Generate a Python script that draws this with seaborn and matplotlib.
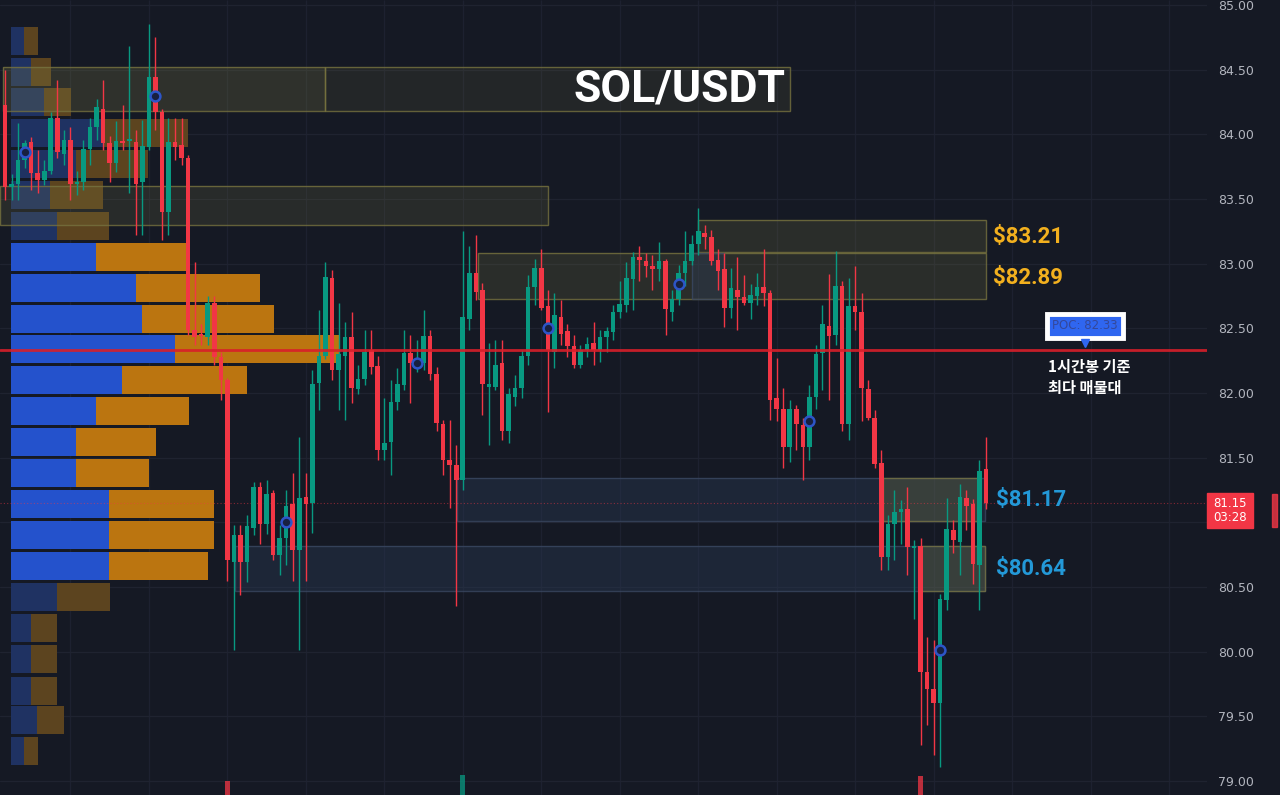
import numpy as np
import pandas as pd
import matplotlib
matplotlib.use("Agg")
import matplotlib.pyplot as plt
from matplotlib.patches import Rectangle
from matplotlib.transforms import blended_transform_factory
import seaborn as sns

# 1h candles, oldest first
opens = [84.23, 83.59, 83.62, 83.80, 83.94, 83.70, 83.65, 83.72, 84.13, 83.85,
         83.96, 83.62, 83.63, 83.89, 84.06, 84.20, 83.93, 83.78, 83.95, 83.95,
         83.94, 83.63, 83.90, 84.44, 84.17, 83.40, 83.94, 83.92, 83.82, 82.49,
         82.46, 82.43, 82.70, 82.28, 82.10, 80.69, 80.90, 80.69, 80.96, 81.27,
         80.99, 81.23, 80.75, 80.88, 81.14, 80.79, 81.20, 81.15, 82.08, 82.29,
         82.89, 82.18, 82.29, 82.43, 82.03, 82.11, 82.33, 82.21, 81.56, 81.62,
         81.93, 82.06, 82.31, 82.21, 82.23, 82.44, 82.15, 81.76, 81.48, 81.44,
         81.33, 82.57, 82.93, 82.80, 82.05, 82.05, 82.23, 81.71, 81.97, 82.04,
         82.29, 82.82, 82.97, 82.67, 82.32, 82.59, 82.48, 82.36, 82.22, 82.33,
         82.39, 82.33, 82.43, 82.47, 82.63, 82.68, 82.88, 83.05, 83.02, 82.98,
         82.96, 83.02, 82.63, 82.73, 82.93, 83.02, 83.15, 83.24, 83.21, 83.03,
         82.96, 82.66, 82.80, 82.74, 82.70, 82.75, 82.82, 82.77, 81.96, 81.88,
         81.58, 81.88, 81.75, 81.58, 81.97, 82.31, 82.52, 82.45, 82.83, 81.76,
         82.67, 82.63, 82.03, 81.81, 81.46, 80.73, 80.99, 81.08, 81.10, 80.80,
         80.82, 79.84, 79.71, 79.60, 80.40, 80.94, 80.85, 81.19, 81.14, 80.67,
         81.41]
highs = [84.50, 83.69, 84.09, 83.96, 83.98, 83.88, 83.80, 84.17, 84.42, 84.03,
         84.06, 83.72, 83.96, 84.13, 84.27, 84.42, 83.99, 84.10, 84.23, 84.68,
         84.03, 84.11, 84.85, 84.75, 84.20, 84.13, 84.13, 84.13, 83.84, 83.01,
         82.53, 82.75, 82.75, 82.32, 82.12, 80.98, 80.98, 81.06, 81.31, 81.31,
         81.33, 81.25, 80.98, 81.25, 81.38, 81.66, 81.38, 82.18, 82.64, 83.01,
         82.95, 82.70, 82.55, 82.63, 82.22, 82.49, 82.49, 82.29, 81.96, 82.10,
         82.19, 82.49, 82.45, 82.41, 82.64, 82.49, 82.20, 81.79, 81.79, 81.60,
         83.25, 83.14, 83.22, 82.85, 82.39, 82.41, 82.41, 82.04, 82.14, 82.33,
         82.91, 83.04, 83.11, 82.80, 82.77, 82.72, 82.53, 82.45, 82.37, 82.43,
         82.55, 82.49, 82.51, 82.68, 82.87, 83.01, 83.09, 83.14, 83.08, 83.07,
         83.17, 83.04, 82.80, 82.99, 83.25, 83.22, 83.43, 83.30, 83.26, 83.11,
         83.08, 82.97, 83.05, 82.91, 82.84, 82.93, 83.11, 82.80, 82.27, 82.04,
         81.95, 81.91, 81.81, 82.06, 82.37, 82.68, 82.92, 83.10, 82.87, 82.89,
         82.98, 82.77, 82.10, 81.87, 81.56, 81.06, 81.25, 81.17, 81.27, 80.86,
         80.88, 80.11, 80.09, 80.45, 81.19, 81.02, 81.30, 81.25, 81.18, 81.48,
         81.66]
lows = [83.49, 83.49, 83.49, 83.74, 83.57, 83.55, 83.61, 83.69, 83.82, 83.76,
        83.49, 83.53, 83.57, 83.76, 83.96, 83.88, 83.63, 83.71, 83.88, 83.55,
        83.22, 83.22, 83.88, 84.03, 83.18, 83.22, 83.80, 83.76, 82.45, 82.37,
        82.37, 82.37, 82.22, 81.95, 80.55, 80.01, 80.44, 80.54, 80.90, 80.83,
        80.91, 80.71, 80.59, 80.67, 80.55, 80.01, 80.55, 80.92, 81.87, 82.26,
        82.10, 81.87, 81.79, 81.92, 81.99, 82.06, 82.15, 81.48, 81.48, 81.37,
        81.87, 82.02, 81.92, 82.16, 82.18, 82.10, 81.71, 81.37, 81.11, 80.35,
        81.25, 82.49, 82.72, 81.83, 81.60, 82.02, 81.64, 81.61, 81.90, 81.96,
        82.22, 82.68, 82.64, 81.85, 82.19, 82.37, 82.28, 82.19, 82.19, 82.28,
        82.22, 82.24, 82.32, 82.41, 82.58, 82.63, 82.64, 82.87, 82.90, 82.80,
        82.87, 82.45, 82.56, 82.68, 82.83, 82.99, 83.07, 83.11, 82.99, 82.80,
        82.51, 82.58, 82.49, 82.68, 82.57, 82.68, 82.67, 81.79, 81.78, 81.42,
        81.47, 81.56, 81.33, 81.48, 81.88, 82.02, 81.95, 82.37, 81.71, 81.64,
        82.49, 81.78, 81.79, 81.42, 80.63, 80.63, 80.71, 80.83, 80.59, 80.25,
        79.28, 79.43, 79.20, 79.11, 80.32, 80.76, 80.59, 80.94, 80.52, 80.32,
        81.10]
closes = [83.59, 83.62, 83.80, 83.93, 83.70, 83.65, 83.72, 84.13, 83.86, 83.96,
          83.62, 83.63, 83.89, 84.06, 84.21, 83.93, 83.78, 83.95, 83.93, 83.96,
          83.62, 83.91, 84.44, 84.17, 83.40, 83.94, 83.90, 83.82, 82.49, 82.43,
          82.44, 82.70, 82.28, 82.10, 80.71, 80.90, 80.69, 80.97, 81.27, 80.99,
          81.22, 80.75, 80.88, 81.13, 80.79, 81.19, 81.14, 82.07, 82.29, 82.90,
          82.18, 82.30, 82.43, 82.04, 82.11, 82.32, 82.20, 81.56, 81.61, 81.93,
          82.07, 82.31, 82.23, 82.27, 82.44, 82.15, 81.77, 81.48, 81.44, 81.33,
          82.59, 82.93, 82.78, 82.07, 82.07, 82.22, 81.71, 81.99, 82.04, 82.29,
          82.82, 82.97, 82.66, 82.33, 82.60, 82.46, 82.36, 82.22, 82.33, 82.38,
          82.33, 82.43, 82.48, 82.63, 82.69, 82.89, 83.05, 83.03, 82.98, 82.96,
          83.02, 82.65, 82.73, 82.93, 83.02, 83.15, 83.25, 83.21, 83.02, 82.94,
          82.66, 82.81, 82.74, 82.70, 82.76, 82.82, 82.77, 81.95, 81.88, 81.58,
          81.88, 81.76, 81.58, 81.97, 82.30, 82.53, 82.44, 82.83, 81.76, 82.67,
          82.63, 82.04, 81.81, 81.45, 80.73, 80.99, 81.08, 81.10, 80.81, 80.82,
          79.84, 79.71, 79.60, 80.41, 80.95, 80.86, 81.20, 81.13, 80.68, 81.40,
          81.15]

# blue ring markers on the candles
marker_idx = [3, 23, 43, 63, 83, 103, 123, 143]
marker_price = [83.86, 84.30, 81.00, 82.23, 82.50, 82.84, 81.78, 80.01]

# volume profile (row centre price, buy / sell volume)
vp_price = [84.72, 84.48, 84.25, 84.01, 83.77, 83.53, 83.29, 83.05, 82.81, 82.57,
            82.34, 82.10, 81.86, 81.62, 81.38, 81.14, 80.90, 80.66, 80.42, 80.18,
            79.94, 79.70, 79.47, 79.23]
vp_buy = [13, 20, 33, 92, 65, 39, 46, 85, 125, 131, 164, 111,
          85, 65, 65, 98, 98, 98, 46, 20, 20, 20, 26, 13]
vp_sell = [14, 20, 27, 85, 72, 53, 52, 90, 124, 132, 165, 125,
           93, 80, 73, 105, 105, 99, 53, 26, 26, 26, 27, 14]
va_high, va_low = 83.17, 80.55
poc = 82.33

# key levels
levels_gold = [83.21, 82.89]
levels_blue = [81.17, 80.64]

# the few volume bars that poke up at the bottom
spike_idx = [34, 70, 140]
spike_vol = [14, 20, 19]

BG = "#151924"
GREEN = "#089981"
RED = "#f23645"
GOLD = "#f2b01e"
SKY = "#2399d8"
BOLD_FONT = ["Roboto", "Open Sans", "DejaVu Sans"]

sns.set_theme(style="dark", rc={"figure.facecolor": BG, "axes.facecolor": BG,
                                "savefig.facecolor": BG})
plt.rcParams["font.family"] = ["DejaVu Sans", "Noto Sans CJK KR"]

df = pd.DataFrame({"open": opens, "high": highs, "low": lows, "close": closes})
df["idx"] = np.arange(len(df))
df["up"] = df["close"] >= df["open"]

W, H = 1280, 795
plot_w = 1207
fig = plt.figure(figsize=(W / 100, H / 100), dpi=100)
rect = [0, 0, plot_w / W, 1]
ax_vp = fig.add_axes(rect)
ax = fig.add_axes(rect, sharey=ax_vp)
ax.patch.set_alpha(0)

ylo, yhi = 78.892, 85.039
ax.set_ylim(ylo, yhi)
ax.set_xlim(-0.765, 183.8)
ax_vp.set_xlim(-11, plot_w - 11)

# grid (on the bottom axes so the profile bars cover it)
ticks = np.arange(79, 85.01, 0.5)
ax_vp.set_yticks(ticks)
ax_vp.grid(axis="y", color="#1f2330", lw=0.9)
ax_vp.grid(axis="x", visible=False)
vtrans = blended_transform_factory(ax.transData, ax_vp.transAxes)
ax_vp.vlines(list(range(10, 184, 12)), 0, 1, transform=vtrans, color="#1d2130",
             lw=0.9, zorder=0.5)

# volume profile
in_va = [(p <= va_high) and (p >= va_low) for p in vp_price]
blue_c = ["#2452cc" if v else "#1f3262" for v in in_va]
orng_c = ["#bb7510" if v else "#5c441f" for v in in_va]
ax_vp.barh(vp_price, vp_buy, height=0.2165, color=blue_c, lw=0, zorder=2)
ax_vp.barh(vp_price, vp_sell, left=vp_buy, height=0.2165, color=orng_c, lw=0, zorder=2)

# zones
def zone(x0, x1, p0, p1, fc, ec, a):
    ax.add_patch(Rectangle((x0, p0), x1 - x0, p1 - p0, facecolor=fc, alpha=a,
                           lw=0, zorder=1))
    ax.add_patch(Rectangle((x0, p0), x1 - x0, p1 - p0, fill=False, edgecolor=ec,
                           lw=1, zorder=1.2, alpha=0.8))

olive, olive_e = "#8c8a4a", "#77733f"
navy, navy_e = "#2a3a55", "#3a4862"
zone(-0.3, 48.9, 84.18, 84.52, olive, olive_e, 0.22)
zone(48.9, 120.0, 84.18, 84.52, olive, olive_e, 0.12)
zone(-0.8, 83.0, 83.30, 83.60, olive, olive_e, 0.16)
zone(106.0, 150.0, 83.09, 83.34, olive, olive_e, 0.18)
zone(72.3, 150.0, 82.73, 83.08, olive, olive_e, 0.18)
zone(105.0, 110.0, 82.73, 83.08, navy, navy_e, 0.4)
zone(69.1, 149.8, 81.01, 81.34, navy, navy_e, 0.4)
zone(134.2, 148.8, 81.01, 81.34, olive, olive_e, 0.25)
zone(35.2, 149.8, 80.47, 80.82, navy, navy_e, 0.4)
zone(139.9, 149.8, 80.47, 80.82, olive, olive_e, 0.25)

# POC and last price lines
ax.axhline(poc, color="#d81f2a", lw=2, alpha=0.9, zorder=5)
ax.axhline(closes[-1], color=RED, lw=0.8, ls=(0, (1, 2)), alpha=0.5, zorder=2)

# candles
colors = np.where(df["up"], GREEN, RED)
ax.vlines(df["idx"], df["low"], df["high"], colors=colors, lw=1, zorder=3)
body_lo = df[["open", "close"]].min(axis=1)
body_h = (df["close"] - df["open"]).abs().clip(lower=0.014)
ax.bar(df["idx"], body_h, bottom=body_lo, width=0.7, color=colors, lw=0, zorder=4)

# bottom volume spikes
spike_col = [GREEN if df["up"][i] else RED for i in spike_idx]
ax.bar(spike_idx, np.array(spike_vol) * 0.00773, bottom=ylo, width=0.7,
       color=spike_col, alpha=0.75, lw=0, zorder=3)

sns.scatterplot(x=marker_idx, y=marker_price, ax=ax, marker="o", s=50,
                color="#182040", edgecolor="#2d55c8", linewidth=1.8, zorder=6)

# text
ax.text(119.3, 84.35, "SOL/USDT", ha="right", va="center", color="white",
        fontsize=32, fontweight="bold", family=BOLD_FONT, zorder=7)
for lv in levels_gold:
    ax.text(151.1, lv, f"${lv:.2f}", ha="left", va="center", color=GOLD,
            fontsize=16, fontweight="bold", family=BOLD_FONT, zorder=7)
for lv in levels_blue:
    ax.text(151.5, lv, f"${lv:.2f}", ha="left", va="center", color=SKY,
            fontsize=16, fontweight="bold", family=BOLD_FONT, zorder=7)

ax.text(165.1, 82.52, f"POC: {poc:.2f}", ha="center", va="center", fontsize=8.5,
        color="#34489a", zorder=8,
        bbox=dict(boxstyle="square,pad=0.45", fc="#2f66f0", ec="white", lw=3.5))
ax.plot([165.1], [82.385], marker="v", ms=6, color="#2f66f0", zorder=8)
ax.text(159.5, 82.26, "1시간봉 기준\n최다 매물대", ha="left", va="top", color="white",
        fontsize=11, fontweight="bold", linespacing=1.3,
        family=["Noto Sans CJK KR", "DejaVu Sans"], zorder=8)

# axes cosmetics
for a in (ax, ax_vp):
    for s in a.spines.values():
        s.set_visible(False)
ax_vp.tick_params(left=False, labelleft=False, bottom=False, labelbottom=False)
ax.tick_params(bottom=False, labelbottom=False)
ax.yaxis.tick_right()
ax.set_yticks(ticks)
# 81.00 sits under the last-price tag
ax.set_yticklabels(["" if abs(v - 81.0) < 1e-6 else f"{v:.2f}" for v in ticks])
ax.tick_params(axis="y", right=False, length=0, pad=8, labelsize=9, labelcolor="#b2b5be")
ax.set_xlabel("")
ax.set_ylabel("")

# last price tag on the scale
fig.patches.append(Rectangle((1207 / W, 1 - 528 / H), 46 / W, 35 / H,
                             transform=fig.transFigure, color=RED, zorder=5))
fig.text(1230 / W, 1 - 510.5 / H, f"{closes[-1]:.2f}\n03:28", ha="center", va="center",
         color="white", fontsize=8.5, linespacing=1.15, zorder=6)
fig.patches.append(Rectangle((1272 / W, 1 - 527 / H), 5 / W, 33 / H,
                             transform=fig.transFigure, color=RED, alpha=0.8))

fig.savefig("out.png", dpi=100)
